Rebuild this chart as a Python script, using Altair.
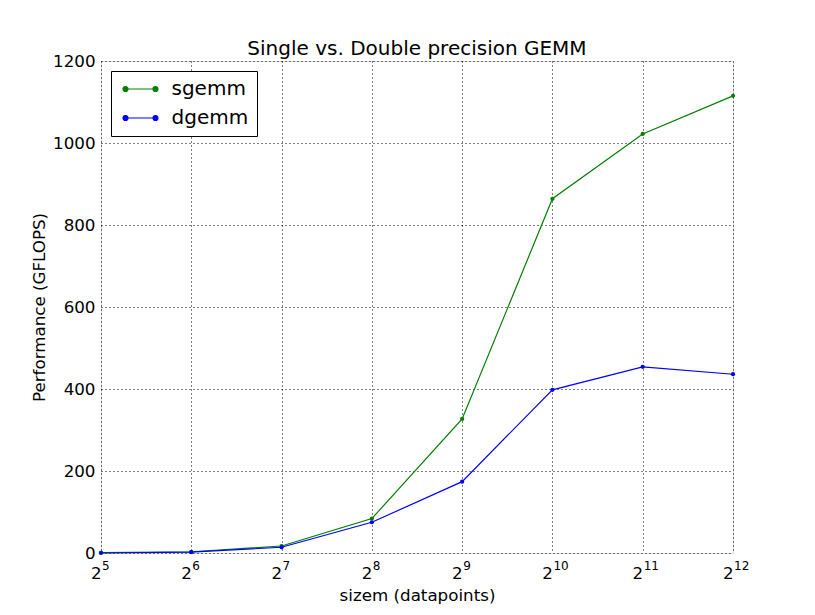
import altair as alt
import pandas as pd

sizes = [32, 64, 128, 256, 512, 1024, 2048, 4096]
exponents = ["5", "6", "7", "8", "9", "10", "11", "12"]
sgemm = [1, 3, 17, 84, 327, 864, 1022, 1115]
dgemm = [0, 2, 14, 75, 174, 398, 454, 436]
series_names = ["sgemm", "dgemm"]
series_colors = ["#008000", "#0000ff"]
y_ticks = [0, 200, 400, 600, 800, 1000, 1200]

rows = []
for s, a, b in zip(sizes, sgemm, dgemm):
    rows.append({"size": s, "series": "sgemm", "gflops": a})
    rows.append({"size": s, "series": "dgemm", "gflops": b})
df = pd.DataFrame(rows)
exp_df = pd.DataFrame({"size": sizes, "exp": exponents})

FONT = "DejaVu Sans"
W, H = 632, 492

xscale = alt.Scale(type="log", base=2, domain=[32, 4096], nice=False)
x = alt.X(
    "size:Q",
    scale=xscale,
    axis=alt.Axis(
        values=sizes,
        labelExpr="'2'",
        labelAlign="right",
        labelBaseline="alphabetic",
        title="sizem (datapoints)",
        grid=True,
        gridDash=[1, 3],
        gridColor="black",
        gridOpacity=1,
        ticks=False,
        labelFont=FONT,
        labelFontSize=16.7,
        labelColor="black",
        labelPadding=25,
        titleFont=FONT,
        titleFontSize=16.7,
        titleFontWeight="normal",
        titleColor="black",
        titlePadding=6,
        domain=False,
        labelFlush=False,
    ),
)
y = alt.Y(
    "gflops:Q",
    scale=alt.Scale(domain=[0, 1200], nice=False),
    axis=alt.Axis(
        values=y_ticks,
        format="d",
        title="Performance (GFLOPS)",
        grid=True,
        gridDash=[1, 3],
        gridColor="black",
        gridOpacity=1,
        ticks=False,
        labelFont=FONT,
        labelFontSize=16.7,
        labelColor="black",
        labelPadding=6,
        titleFont=FONT,
        titleFontSize=16.7,
        titleFontWeight="normal",
        titleColor="black",
        titlePadding=4,
        domain=False,
        labelFlush=False,
    ),
)
color = alt.Color(
    "series:N",
    scale=alt.Scale(domain=series_names, range=series_colors),
    legend=alt.Legend(
        title=None,
        orient="none",
        legendX=10,
        legendY=10,
        direction="vertical",
        symbolType="M-2,0H2M-2.33,0a0.33,0.33 0 1,0 0.66,0a0.33,0.33 0 1,0 -0.66,0M1.67,0a0.33,0.33 0 1,0 0.66,0a0.33,0.33 0 1,0 -0.66,0",
        symbolSize=225,
        symbolStrokeWidth=1.2,
        symbolOffset=11.5,
        labelFontSize=20,
        labelFont=FONT,
        labelColor="black",
        rowPadding=9,
        padding=8,
        strokeColor="black",
        fillColor="white",
        labelOffset=21,
        cornerRadius=0,
    ),
)

base = alt.Chart(df)
lines = base.mark_line(strokeWidth=1.2).encode(x=x, y=y, color=color, order="size:Q")
points = base.mark_circle(size=18, opacity=1).encode(
    x=x, y=y,
    color=alt.Color("series:N", scale=alt.Scale(domain=series_names, range=series_colors), legend=None),
)
sup = alt.Chart(exp_df).mark_text(
    align="left", baseline="alphabetic", font=FONT, fontSize=12, color="black", dx=1
).encode(x=alt.X("size:Q", scale=xscale), y=alt.value(H + 17), text="exp:N")

chart = (
    alt.layer(lines, points, sup)
    .properties(
        width=W,
        height=H,
        title=alt.TitleParams("Single vs. Double precision GEMM", fontSize=20, font=FONT, fontWeight="normal", offset=7, dy=13, color="black"),
        autosize=alt.AutoSizeParams(type="none"),
        padding={"left": 93, "top": 53, "right": 60, "bottom": 60},
    )
    .configure_view(stroke="black", strokeWidth=1.2)
    .configure(background="white")
)

chart.save("out.html", embed_options={"renderer": "svg", "actions": False})
